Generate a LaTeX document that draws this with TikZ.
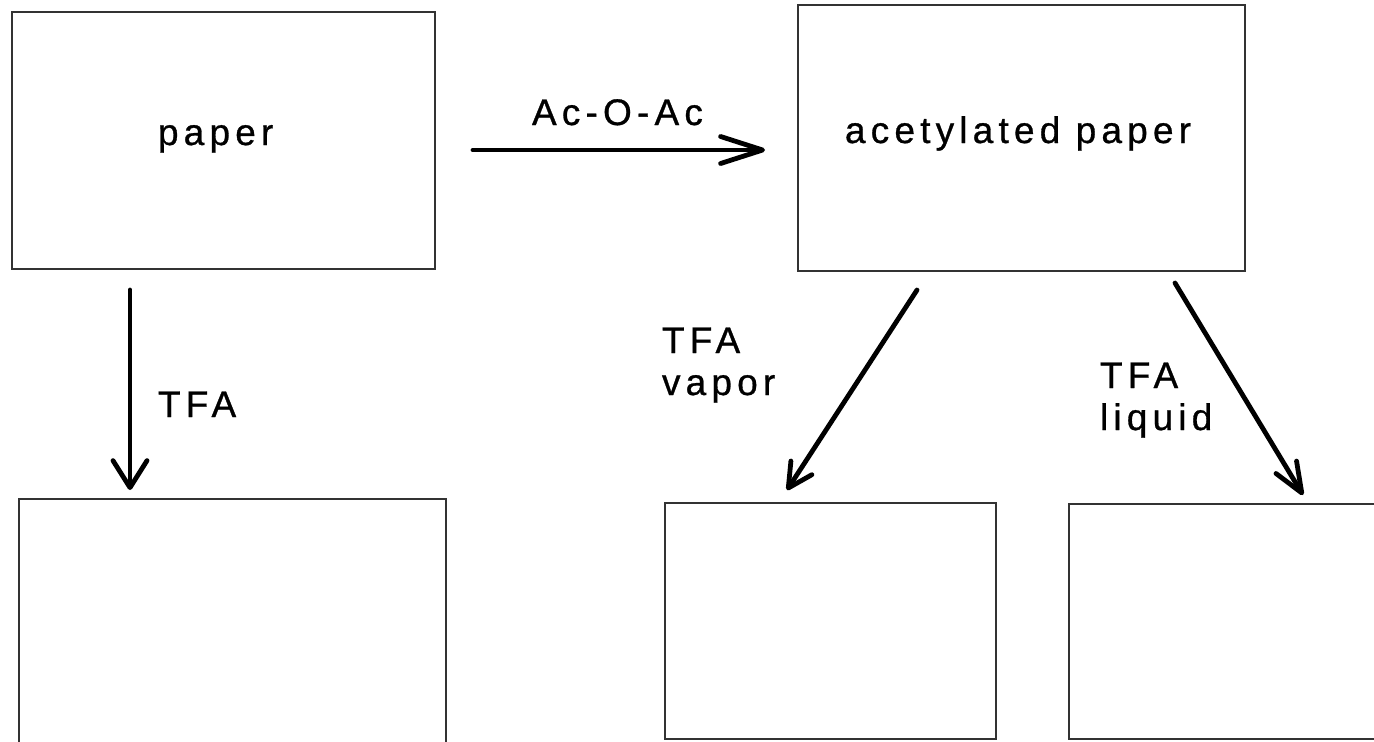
\documentclass[tikz,border=0pt]{standalone}
\usepackage{fontspec}
\setmainfont{Liberation Sans}[LetterSpace=14, FakeBold=0.8]
\usetikzlibrary{arrows.meta}
\definecolor{boxgray}{HTML}{333333}
\begin{document}
\begin{tikzpicture}[x=0.5pt,y=-0.5pt,
  box/.style={draw=boxgray, line width=1pt, rectangle, inner sep=0pt, outer sep=0pt},
  lbl/.style={font=\fontsize{18.5pt}{21pt}\selectfont, inner sep=0pt, outer sep=0pt},
  flow/.style={line width=2.4pt, line cap=round, line join=round}]
\useasboundingbox (0,0) rectangle (1374,741);
\fill[white] (0,0) rectangle (1374,741);

% boxes
\node[box, minimum width=211.5pt, minimum height=128.5pt] (paper) at (223.5,140.5) {};
\node[box, minimum width=223.5pt, minimum height=133pt] (acet) at (1021.5,138) {};
\node[box, minimum width=213.75pt, minimum height=140.5pt] (resA) at (232.25,639.5) {};
\node[box, minimum width=165.5pt, minimum height=118pt] (resB) at (830.5,621) {};
\node[box, minimum width=165.75pt, minimum height=117.5pt] (resC) at (1234.25,621.5) {};

% box texts
\node[lbl, anchor=base west] (paperlbl) at (158,145) {paper};
\node[lbl, anchor=base west] (acetlbl) at (845,143) {acetylated paper};

% arrow end points
\coordinate (h1) at (473,150);
\coordinate (h2) at (765,150);
\coordinate (v1) at (130,290);
\coordinate (v2) at (130,490);
\coordinate (d1) at (917,290);
\coordinate (d2) at (787,490);
\coordinate (e1) at (1175,283);
\coordinate (e2) at (1303,495);

% arrows
\draw[flow, -{Straight Barb[length=21pt, width=13.5pt, round]}] (h1) -- (h2);
\draw[flow, -{Straight Barb[length=13.5pt, width=17pt, round]}] (v1) -- (v2);
\draw[flow, -{Straight Barb[length=12pt, width=12.5pt, round]}] (d1) -- (d2);
\draw[flow, -{Straight Barb[length=15pt, width=12pt, round]}] (e1) -- (e2);

% arrow labels (base anchor of a two-line label sits on its last line)
\node[lbl, anchor=base west] (acoac) at (532,125) {Ac-O-Ac};
\node[lbl, anchor=base west] (tfa) at (158,417) {TFA};
\node[lbl, anchor=base west, align=left] (tfavap) at (662,395) {TFA\\vapor};
\node[lbl, anchor=base west, align=left] (tfaliq) at (1100,430) {TFA\\liquid};
\end{tikzpicture}
\end{document}
